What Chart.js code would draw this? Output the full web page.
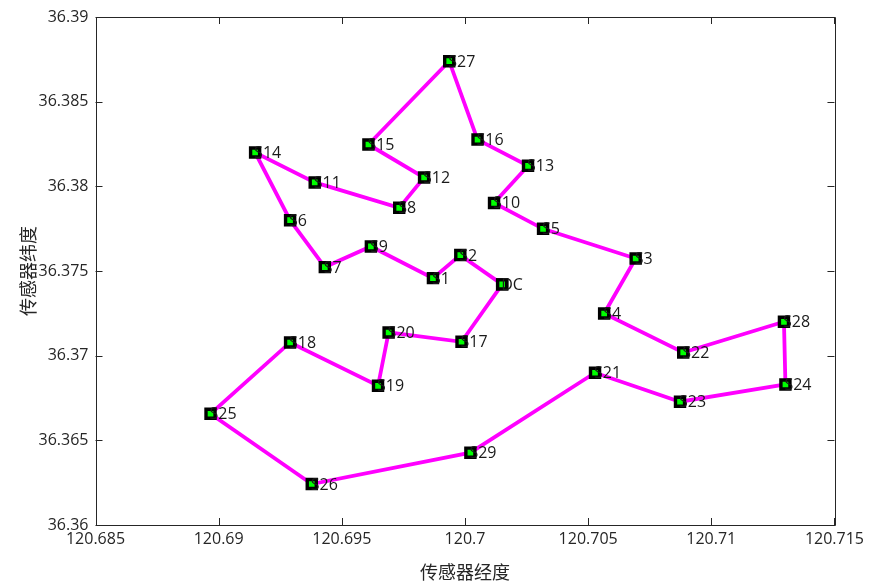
<!DOCTYPE html>
<html>
<head>
<meta charset="utf-8">
<script src="https://cdn.jsdelivr.net/npm/chart.js@4.4.0/dist/chart.umd.min.js"></script>
<style>
	body { margin: 0; background: #fff; }
	#route { display: block; }
</style>
</head>
<body>
<canvas id="route" width="869" height="583"></canvas>
<script>
// node names, longitude, latitude (index 0 = DC, then S1..S29)
var nodeNames = ['DC', 'S1', 'S2', 'S3', 'S4', 'S5', 'S6', 'S7', 'S8', 'S9', 'S10',
	'S11', 'S12', 'S13', 'S14', 'S15', 'S16', 'S17', 'S18', 'S19', 'S20',
	'S21', 'S22', 'S23', 'S24', 'S25', 'S26', 'S27', 'S28', 'S29'];
var nodeLon = [120.70151, 120.69870, 120.69981, 120.70693, 120.70565, 120.70317, 120.69290, 120.69431, 120.69733, 120.69618, 120.70118,
	120.69390, 120.69834, 120.70256, 120.69148, 120.69608, 120.70051, 120.69986, 120.69290, 120.69647, 120.69690,
	120.70528, 120.70886, 120.70873, 120.71301, 120.68967, 120.69378, 120.69936, 120.71295, 120.70022];
var nodeLat = [36.37421, 36.37458, 36.37594, 36.37574, 36.37249, 36.37749, 36.37800, 36.37523, 36.37873, 36.37645, 36.37902,
	36.38023, 36.38052, 36.38121, 36.38200, 36.38247, 36.38276, 36.37082, 36.37078, 36.36822, 36.37137,
	36.36899, 36.37019, 36.36728, 36.36830, 36.36657, 36.36242, 36.38739, 36.37200, 36.36427];
// visiting order of the closed route
var routeOrder = [0, 2, 1, 9, 7, 6, 14, 11, 8, 12, 15, 27, 16, 13, 10, 5, 3, 4, 22, 28, 24, 23, 21, 29, 26, 25, 18, 19, 20, 17, 0];

var xTicks = [120.685, 120.69, 120.695, 120.7, 120.705, 120.71, 120.715];
var yTicks = [36.36, 36.365, 36.37, 36.375, 36.38, 36.385, 36.39];

var axColor = '#262626';
var tickFont = { family: 'Open Sans', size: 16 };
var titleFont = { family: 'Noto Sans CJK SC', size: 18 };

var routeData = [];
for (var i = 0; i < routeOrder.length; i++) {
	var k = routeOrder[i];
	routeData.push({ x: nodeLon[k], y: nodeLat[k] });
}

function fmt(v) {
	return String(Number(v.toFixed(3)));
}

// box around the plot and ticks pointing inwards on all four sides
var boxPlugin = {
	id: 'box',
	afterDraw: function(chart) {
		var c = chart.ctx, a = chart.chartArea;
		var xs = chart.scales.x, ys = chart.scales.y;
		var len = 7;
		c.save();
		c.strokeStyle = axColor;
		c.lineWidth = 1;
		c.beginPath();
		c.rect(Math.round(a.left) + 0.5, Math.round(a.top) + 0.5, Math.round(a.right - a.left), Math.round(a.bottom - a.top));
		xTicks.forEach(function(t) {
			var px = Math.round(xs.getPixelForValue(t)) + 0.5;
			c.moveTo(px, a.bottom); c.lineTo(px, a.bottom - len);
			c.moveTo(px, a.top); c.lineTo(px, a.top + len);
		});
		yTicks.forEach(function(t) {
			var py = Math.round(ys.getPixelForValue(t)) + 0.5;
			c.moveTo(a.left, py); c.lineTo(a.left + len, py);
			c.moveTo(a.right, py); c.lineTo(a.right - len, py);
		});
		c.stroke();
		c.restore();
	}
};

// node names next to each marker
var namePlugin = {
	id: 'names',
	afterDatasetsDraw: function(chart) {
		var c = chart.ctx;
		var xs = chart.scales.x, ys = chart.scales.y;
		c.save();
		c.fillStyle = '#1a1a1a';
		c.font = '16px "Open Sans"';
		c.textAlign = 'left';
		c.textBaseline = 'middle';
		for (var i = 0; i < nodeNames.length; i++) {
			c.fillText(nodeNames[i], xs.getPixelForValue(nodeLon[i]) - 1, ys.getPixelForValue(nodeLat[i]) + 1);
		}
		c.restore();
	}
};

new Chart(document.getElementById('route'), {
	type: 'scatter',
	data: {
		datasets: [{
			label: 'route',
			data: routeData,
			showLine: true,
			borderColor: '#ff00ff',
			borderWidth: 3.8,
			pointStyle: 'rect',
			pointRadius: 6.4,
			pointBorderWidth: 3.4,
			pointBorderColor: '#000',
			pointBackgroundColor: '#00ff00',
			tension: 0
		}]
	},
	options: {
		responsive: false,
		animation: false,
		layout: { padding: { left: 0, top: 17, right: 31, bottom: 0 } },
		plugins: {
			legend: { display: false },
			tooltip: { enabled: false }
		},
		scales: {
			x: {
				type: 'linear',
				min: 120.685,
				max: 120.715,
				grid: { display: false, drawTicks: false },
				border: { display: false },
				afterBuildTicks: function(s) { s.ticks = xTicks.map(function(v) { return { value: v }; }); },
				afterFit: function(s) { s.height = 58; },
				ticks: { color: axColor, font: tickFont, padding: 5, maxRotation: 0, callback: fmt },
				title: { display: true, text: '传感器经度', color: axColor, font: titleFont, padding: { top: 1, bottom: 0 } }
			},
			y: {
				type: 'linear',
				min: 36.36,
				max: 36.39,
				grid: { display: false, drawTicks: false },
				border: { display: false },
				afterBuildTicks: function(s) { s.ticks = yTicks.map(function(v) { return { value: v }; }); },
				afterFit: function(s) { s.width = 95.5; },
				ticks: { color: axColor, font: tickFont, padding: 7, callback: fmt },
				title: { display: true, text: '传感器纬度', color: axColor, font: titleFont, padding: { top: 17, bottom: 0 } }
			}
		}
	},
	plugins: [boxPlugin, namePlugin]
});
</script>
</body>
</html>
